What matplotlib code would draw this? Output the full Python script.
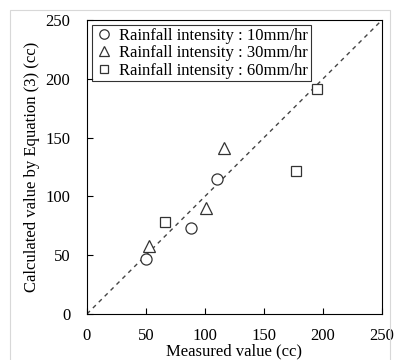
import matplotlib.pyplot as plt
from matplotlib.patches import Rectangle

plt.rcParams['font.family'] = ['Liberation Serif', 'DejaVu Serif']

# data
measured_10 = [50, 88, 110]
calc_10 = [47, 73, 115]
measured_30 = [53, 101, 116]
calc_30 = [58, 90, 141]
measured_60 = [66, 177, 195]
calc_60 = [78, 122, 191]
ticks = [0, 50, 100, 150, 200, 250]

fig = plt.figure(figsize=(3.99, 3.6), dpi=100)
ax = fig.add_axes([0.218, 0.128, 0.739, 0.816])

# light frame around the figure
fig.patches.append(Rectangle((10 / 399, -0.1), 380 / 399, 1.1 - 10 / 360,
                             transform=fig.transFigure, fill=False,
                             edgecolor='#d8d8d8', linewidth=0.8))

ax.plot([0, 250], [0, 250], linestyle=(0, (3, 3)), color='#444444', linewidth=1)

ax.plot(measured_10, calc_10, 'o', mfc='white', mec='#333333', ms=8, mew=0.9,
        label='Rainfall intensity : 10mm/hr')
ax.plot(measured_30, calc_30, '^', mfc='white', mec='#333333', ms=8, mew=0.9,
        label='Rainfall intensity : 30mm/hr')
ax.plot(measured_60, calc_60, 's', mfc='white', mec='#333333', ms=7.5, mew=0.9,
        label='Rainfall intensity : 60mm/hr')

ax.set_xlim(0, 250)
ax.set_ylim(0, 250)
ax.set_xticks(ticks)
ax.set_yticks(ticks)
ax.tick_params(direction='in', length=4, labelsize=12)
ax.tick_params(axis='x', pad=10)
ax.tick_params(axis='y', pad=12)
ax.set_xlabel('Measured value (cc)', fontsize=12, labelpad=0)
ax.set_ylabel('Calculated value by Equation (3) (cc)', fontsize=12, labelpad=4)

leg = ax.legend(loc='upper left', fontsize=12, frameon=True, fancybox=False,
                edgecolor='black', borderaxespad=0.3, handletextpad=0.3,
                labelspacing=0.1, borderpad=0.15, handlelength=1.2,
                markerscale=0.85)
leg.get_frame().set_linewidth(0.8)

fig.savefig('out.png', dpi=100)
